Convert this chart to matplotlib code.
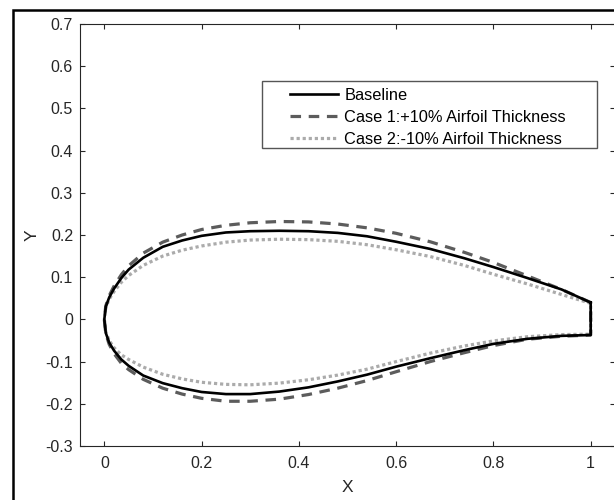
import matplotlib
matplotlib.use('Agg')
import matplotlib.pyplot as plt
from matplotlib.patches import Rectangle

plt.rcParams['font.family'] = ['Liberation Sans', 'DejaVu Sans']

### airfoil coordinates (shared chord stations)
x_c = [0, 0.003, 0.01, 0.02, 0.035, 0.05, 0.08, 0.12, 0.16, 0.20, 0.25, 0.30, 0.36,
       0.42, 0.48, 0.54, 0.60, 0.67, 0.74, 0.80, 0.87, 0.94, 1.0]

base_up = [0, 0.030, 0.052, 0.073, 0.098, 0.118, 0.146, 0.172, 0.187, 0.198, 0.206, 0.209, 0.210,
           0.209, 0.205, 0.197, 0.184, 0.167, 0.145, 0.124, 0.098, 0.071, 0.040]
base_lo = [0, -0.032, -0.055, -0.074, -0.095, -0.110, -0.133, -0.151, -0.163, -0.172, -0.177, -0.177, -0.171,
           -0.161, -0.147, -0.131, -0.112, -0.092, -0.073, -0.058, -0.046, -0.039, -0.037]

case1_up = [0, 0.032, 0.056, 0.079, 0.106, 0.127, 0.157, 0.183, 0.200, 0.213, 0.223, 0.229, 0.232,
            0.231, 0.226, 0.217, 0.204, 0.184, 0.159, 0.135, 0.103, 0.071, 0.040]
case1_lo = [0, -0.034, -0.059, -0.081, -0.104, -0.119, -0.142, -0.163, -0.177, -0.187, -0.194, -0.194, -0.189,
            -0.178, -0.163, -0.145, -0.124, -0.100, -0.079, -0.062, -0.047, -0.040, -0.037]

case2_up = [0, 0.028, 0.048, 0.066, 0.088, 0.104, 0.128, 0.150, 0.164, 0.174, 0.183, 0.188, 0.190,
            0.189, 0.185, 0.177, 0.165, 0.149, 0.128, 0.107, 0.084, 0.059, 0.038]
case2_lo = [0, -0.029, -0.050, -0.067, -0.084, -0.095, -0.113, -0.130, -0.141, -0.149, -0.154, -0.155, -0.151,
            -0.143, -0.132, -0.118, -0.100, -0.080, -0.063, -0.051, -0.041, -0.036, -0.035]

labels = ['Baseline', 'Case 1:+10% Airfoil Thickness', 'Case 2:-10% Airfoil Thickness']


def closed(up, lo):
    # upper surface TE->LE, lower LE->TE, then close the blunt trailing edge
    xs = x_c[::-1] + x_c[1:] + [x_c[-1]]
    ys = up[::-1] + lo[1:] + [up[-1]]
    return xs, ys


fig = plt.figure(figsize=(6.14, 5.0), dpi=100)
ax = fig.add_axes([80 / 614, 54 / 500, 535 / 614, 422 / 500])

dark = '#262626'

xs, ys = closed(case2_up, case2_lo)
l3, = ax.plot(xs, ys, color='#ababab', lw=2.3, dashes=(1, 0.9), zorder=2)
xs, ys = closed(case1_up, case1_lo)
l2, = ax.plot(xs, ys, color='#5c5c5c', lw=2.3, dashes=(3.3, 2.4), zorder=3)
xs, ys = closed(base_up, base_lo)
l1, = ax.plot(xs, ys, color='black', lw=1.9, zorder=4, solid_joinstyle='round')

ax.set_xlim(-0.05, 1.05)
ax.set_ylim(-0.3, 0.7)
ax.set_xticks([0, 0.2, 0.4, 0.6, 0.8, 1])
ax.set_xticklabels(['0', '0.2', '0.4', '0.6', '0.8', '1'])
ax.set_yticks([-0.3, -0.2, -0.1, 0, 0.1, 0.2, 0.3, 0.4, 0.5, 0.6, 0.7])
ax.set_yticklabels(['-0.3', '-0.2', '-0.1', '0', '0.1', '0.2', '0.3', '0.4', '0.5', '0.6', '0.7'])
ax.tick_params(direction='in', length=3.6, width=0.8, colors=dark, labelsize=11.5,
               top=True, right=True)
ax.tick_params(axis='x', pad=7.5)
ax.tick_params(axis='y', pad=5)
for s in ax.spines.values():
    s.set_color(dark)
    s.set_linewidth(0.8)
ax.set_xlabel('X', fontsize=12.5, color=dark, labelpad=6)
ax.set_ylabel('Y', fontsize=12.5, color=dark, labelpad=4)

leg = ax.legend([l1, l2, l3], labels, loc='upper left', bbox_to_anchor=(0.393, 0.848),
                frameon=False, fontsize=11.8, handlelength=2.9, handletextpad=0.4,
                labelspacing=0.42, borderpad=0, borderaxespad=0)
for t in leg.get_texts():
    t.set_color('black')
ax.add_patch(Rectangle((0.340, 0.705), 0.626, 0.160, transform=ax.transAxes,
                       fill=True, fc='white', ec='#555555', lw=1.0, zorder=5))
leg.set_zorder(6)

### outer frame of the original figure (cropped)
fig.patches.append(Rectangle((12.5 / 614, -0.1), 2, 490 / 500 + 0.1, transform=fig.transFigure,
                             fill=False, ec='black', lw=1.8))

plt.savefig('out.png', dpi=100)
